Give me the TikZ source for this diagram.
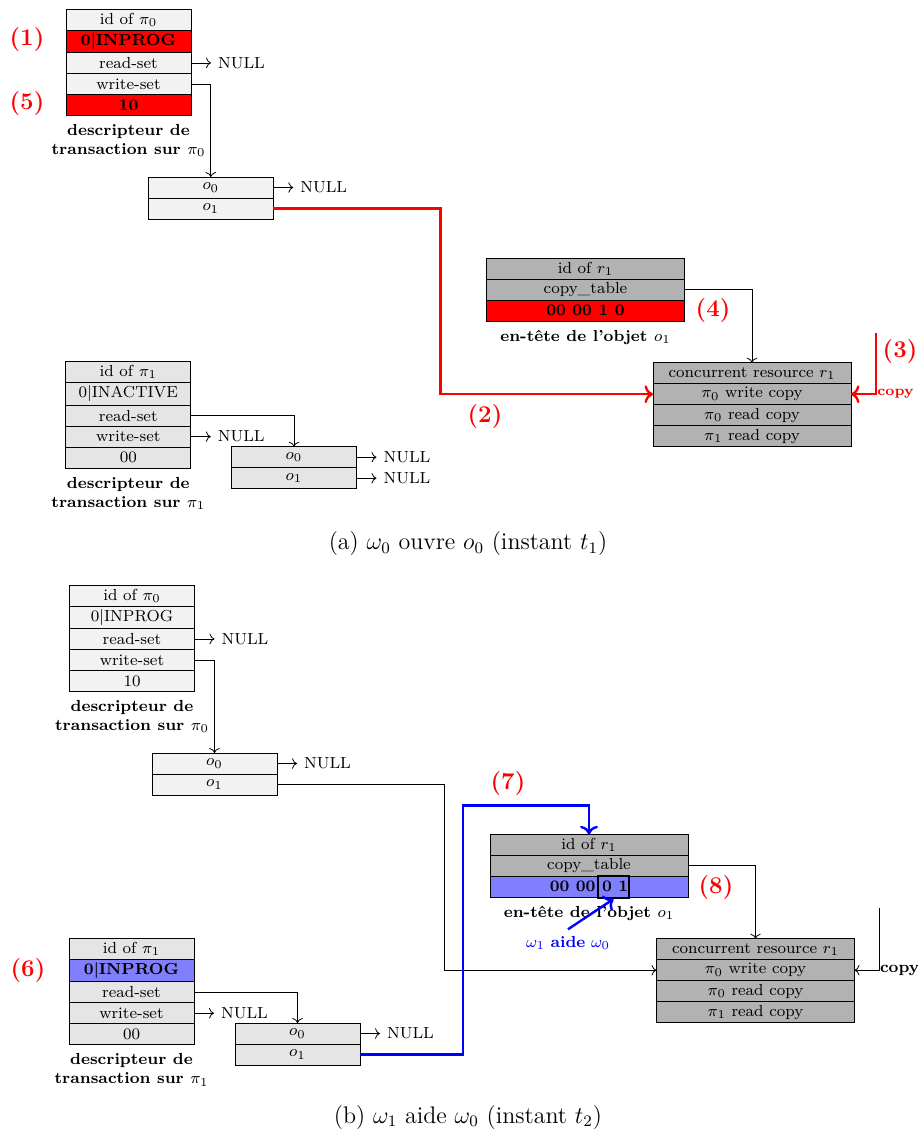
\documentclass[tikz,border=0pt]{standalone}
\usepackage{amsmath}
\usetikzlibrary{positioning,calc,arrows.meta}

\begin{document}
\begin{tikzpicture}[
  x=0.5pt, y=-0.5pt,
  font=\footnotesize,
  cell/.style={draw, minimum height=10.5pt, inner sep=1.6pt, outer sep=0pt},
  desc/.style={cell, minimum width=62.5pt},
  hdr/.style={cell, minimum width=99pt, fill=gray!60},
  lbl/.style={align=center, font=\footnotesize\bfseries},
  num/.style={text=red, font=\large\bfseries},
  captxt/.style={font=\large}]
\useasboundingbox (0,0) rectangle (917,1136);

% ---------- (a) ----------
\node[desc, fill=gray!10, anchor=north] (a0id) at (128.5,9) {id of $\pi_0$};
\node[desc, fill=red, below=0pt of a0id, font=\footnotesize\bfseries] (a0st) {0|INPROG};
\node[desc, fill=gray!10, below=0pt of a0st] (a0rs) {read-set};
\node[desc, fill=gray!10, below=0pt of a0rs] (a0ws) {write-set};
\node[desc, fill=red, below=0pt of a0ws, font=\footnotesize\bfseries] (a0bits) {10};
\node[lbl, below=1pt of a0bits] (a0lab) {descripteur de\\transaction sur $\pi_0$};
\node[right=10pt of a0rs] (a0null) {NULL};

\node[desc, fill=gray!10, anchor=north] (ao0) at (210.8,177) {$o_0$};
\node[desc, fill=gray!10, below=0pt of ao0] (ao1) {$o_1$};
\node[right=10pt of ao0] (ao0null) {NULL};

\node[hdr, anchor=north] (ahid) at (585.5,258.3) {id of $r_1$};
\node[hdr, below=0pt of ahid] (ahct) {copy\_table};
\node[hdr, fill=red, below=0pt of ahct, font=\footnotesize\bfseries] (ahbits) {00 00 1 0};
\node[lbl, below=1pt of ahbits] (ahlab) {en-tête de l'objet $o_1$};

\node[hdr, anchor=north] (ares) at (752,362.7) {concurrent resource $r_1$};
\node[hdr, below=0pt of ares] (aw0) {$\pi_0$ write copy};
\node[hdr, below=0pt of aw0] (ar0) {$\pi_0$ read copy};
\node[hdr, below=0pt of ar0] (ar1) {$\pi_1$ read copy};

\node[desc, fill=gray!20, anchor=north] (a1id) at (128.3,361.7) {id of $\pi_1$};
\node[desc, fill=gray!20, below=0pt of a1id] (a1st) {0|INACTIVE};
\node[desc, fill=gray!20, below=0pt of a1st] (a1rs) {read-set};
\node[desc, fill=gray!20, below=0pt of a1rs] (a1ws) {write-set};
\node[desc, fill=gray!20, below=0pt of a1ws] (a1bits) {00};
\node[lbl, below=1pt of a1bits] (a1lab) {descripteur de\\transaction sur $\pi_1$};
\node[right=10pt of a1ws] (a1null) {NULL};

\node[desc, fill=gray!20, anchor=north] (a1o0) at (294,446.7) {$o_0$};
\node[desc, fill=gray!20, below=0pt of a1o0] (a1o1) {$o_1$};
\node[right=10pt of a1o0] (a1o0null) {NULL};
\node[right=10pt of a1o1] (a1o1null) {NULL};

\coordinate (acptop) at (876,333);
\node[anchor=west, inner sep=0.5pt, text=red, font=\scriptsize\bfseries] (acopy)
  at (acptop |- aw0.east) {copy};

\draw[->] (a0rs) -- (a0null);
\draw[->] (a0ws.east) -| (ao0.north);
\draw[->] (ao0) -- (ao0null);
\draw[red, very thick, ->] (ao1.east) -- ++(167,0) |- (aw0.west);
\draw[->] (ahct.east) -| (ares.north);
\draw[red, very thick, ->] (acptop) |- (aw0.east);
\draw[->] (a1rs.east) -| (a1o0.north);
\draw[->] (a1ws) -- (a1null);
\draw[->] (a1o0) -- (a1o0null);
\draw[->] (a1o1) -- (a1o1null);

\node[num] (n1) at (27,40) {(1)};
\node[num] (n5) at (27,104) {(5)};
\node[num] (n2) at (485,417) {(2)};
\node[num] (n3) at (900,352) {(3)};
\node[num] (n4) at (713,311) {(4)};

\node[captxt] (capa) at (468,544) {(a) $\omega_0$ ouvre $o_0$ (instant $t_1$)};

% ---------- (b) ----------
\node[desc, fill=gray!10, anchor=north] (b0id) at (132,585) {id of $\pi_0$};
\node[desc, fill=gray!10, below=0pt of b0id] (b0st) {0|INPROG};
\node[desc, fill=gray!10, below=0pt of b0st] (b0rs) {read-set};
\node[desc, fill=gray!10, below=0pt of b0rs] (b0ws) {write-set};
\node[desc, fill=gray!10, below=0pt of b0ws] (b0bits) {10};
\node[lbl, below=1pt of b0bits] (b0lab) {descripteur de\\transaction sur $\pi_0$};
\node[right=10pt of b0rs] (b0null) {NULL};

\node[desc, fill=gray!10, anchor=north] (bo0) at (214.5,753) {$o_0$};
\node[desc, fill=gray!10, below=0pt of bo0] (bo1) {$o_1$};
\node[right=10pt of bo0] (bo0null) {NULL};

\node[hdr, anchor=north] (bhid) at (589,834.3) {id of $r_1$};
\node[hdr, below=0pt of bhid] (bhct) {copy\_table};
\node[hdr, fill=blue!50, below=0pt of bhct, font=\footnotesize\bfseries] (bhbits) {00 00 0 1};
\node[draw, very thick, minimum width=15.5pt, minimum height=11pt, inner sep=0pt] (bslot)
  at ($(bhbits.center)+(24.5,0)$) {};
\node[lbl, below=1pt of bhbits] (bhlab) {en-tête de l'objet $o_1$};

\node[hdr, anchor=north] (bres) at (755.5,938.7) {concurrent resource $r_1$};
\node[hdr, below=0pt of bres] (bw0) {$\pi_0$ write copy};
\node[hdr, below=0pt of bw0] (br0) {$\pi_0$ read copy};
\node[hdr, below=0pt of br0] (br1) {$\pi_1$ read copy};

\node[desc, fill=gray!20, anchor=north] (b1id) at (131.5,938.3) {id of $\pi_1$};
\node[desc, fill=blue!50, below=0pt of b1id, font=\footnotesize\bfseries] (b1st) {0|INPROG};
\node[desc, fill=gray!20, below=0pt of b1st] (b1rs) {read-set};
\node[desc, fill=gray!20, below=0pt of b1rs] (b1ws) {write-set};
\node[desc, fill=gray!20, below=0pt of b1ws] (b1bits) {00};
\node[lbl, below=1pt of b1bits] (b1lab) {descripteur de\\transaction sur $\pi_1$};
\node[right=10pt of b1ws] (b1null) {NULL};

\node[desc, fill=gray!20, anchor=north] (b1o0) at (297.5,1023) {$o_0$};
\node[desc, fill=gray!20, below=0pt of b1o0] (b1o1) {$o_1$};
\node[right=10pt of b1o0] (b1o0null) {NULL};

\node[text=blue] (baide) at (568,943) {$\omega_1$ \textbf{aide} $\omega_0$};

\coordinate (bcptop) at (879,908);
\node[anchor=west, inner sep=0.3pt, font=\footnotesize\bfseries] (bcopy)
  at (bcptop |- bw0.east) {copy};

\draw[->] (b0rs) -- (b0null);
\draw[->] (b0ws.east) -| (bo0.north);
\draw[->] (bo0) -- (bo0null);
\draw[->] (bo1.east) -- ++(167,0) |- (bw0.west);
\draw[->] (bhct.east) -| (bres.north);
\draw[->] (bcptop) |- (bw0.east);
\draw[->] (b1rs.east) -| (b1o0.north);
\draw[->] (b1ws) -- (b1null);
\draw[->] (b1o0) -- (b1o0null);
\draw[blue, very thick, ->] (b1o1.east) -| ($(bhid.north)+(-126,-29)$) -| (bhid.north);
\draw[blue, very thick, ->] (baide.north) -- (bslot.south);

\node[num] (n6) at (28,970) {(6)};
\node[num] (n7) at (508,784) {(7)};
\node[num] (n8) at (716,887) {(8)};

\node[captxt] (capb) at (468,1117) {(b) $\omega_1$ aide $\omega_0$ (instant $t_2$)};
\end{tikzpicture}
\end{document}
